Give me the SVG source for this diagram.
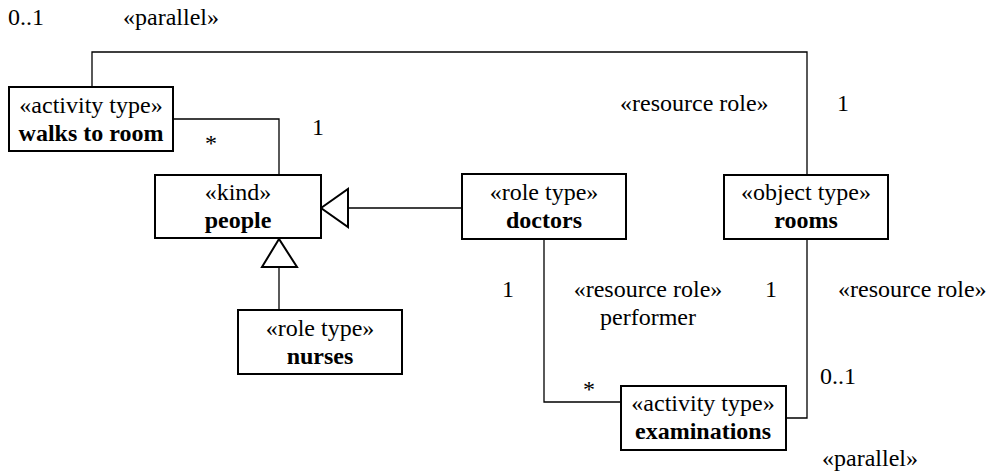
<svg xmlns="http://www.w3.org/2000/svg" width="989" height="476" viewBox="0 0 989 476" font-family="Liberation Serif, Times New Roman, Times, serif" font-size="24">
<style>
.b{font-weight:bold}
.m{text-anchor:middle}
.box{fill:#fff;stroke:#000;stroke-width:2}
.ln{fill:none;stroke:#000;stroke-width:1.3}
.tri{fill:#fff;stroke:#000;stroke-width:2}
</style>
<rect width="989" height="476" fill="#fff"/>
<g id="connectors">
<polyline class="ln" points="92,87 92,52 807,52 807,175"/>
<polyline class="ln" points="173,119 279,119 279,175"/>
<line class="ln" x1="348" y1="208" x2="462" y2="208"/>
<line class="ln" x1="279" y1="267" x2="279" y2="310"/>
<polyline class="ln" points="544,239 544,402 621,402"/>
<polyline class="ln" points="807,239 807,418 786,418"/>
<polygon class="tri" points="321,208 348,189 348,227"/>
<polygon class="tri" points="279,239 262,267 297,267"/>
</g>
<g id="labels">
<text x="8" y="25">0..1</text>
<text x="123" y="25">«parallel»</text>
<text x="205" y="151">*</text>
<text x="312" y="135">1</text>
<text x="620" y="111">«resource role»</text>
<text x="837" y="111">1</text>
<text x="502" y="297">1</text>
<text x="648" y="297" class="m">«resource role»</text>
<text x="648" y="325" class="m">performer</text>
<text x="765" y="297">1</text>
<text x="838" y="297">«resource role»</text>
<text x="820" y="384">0..1</text>
<text x="583" y="397">*</text>
<text x="822" y="466">«parallel»</text>
</g>
<g id="walks">
<rect class="box" x="9" y="87" width="164" height="64"/>
<text class="m" x="91" y="113">«activity type»</text>
<text class="m b" x="91" y="141">walks to room</text>
</g>
<g id="people">
<rect class="box" x="155" y="175" width="166" height="63"/>
<text class="m" x="238" y="200">«kind»</text>
<text class="m b" x="238" y="228">people</text>
</g>
<g id="doctors">
<rect class="box" x="462" y="174" width="164" height="65"/>
<text class="m" x="544" y="200">«role type»</text>
<text class="m b" x="544" y="228">doctors</text>
</g>
<g id="rooms">
<rect class="box" x="724" y="175" width="164" height="64"/>
<text class="m" x="806" y="200">«object type»</text>
<text class="m b" x="806" y="228">rooms</text>
</g>
<g id="nurses">
<rect class="box" x="238" y="310" width="164" height="64"/>
<text class="m" x="320" y="336">«role type»</text>
<text class="m b" x="320" y="364">nurses</text>
</g>
<g id="examinations">
<rect class="box" x="621" y="386" width="165" height="64"/>
<text class="m" x="703" y="411">«activity type»</text>
<text class="m b" x="703" y="439">examinations</text>
</g>
</svg>
